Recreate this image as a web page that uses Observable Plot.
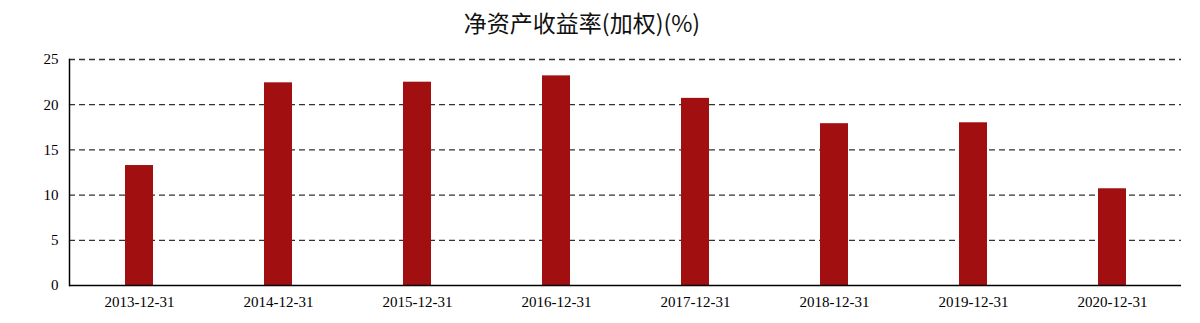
<!DOCTYPE html>
<html>
<head>
<meta charset="utf-8">
<script src="https://cdn.jsdelivr.net/npm/d3@7"></script>
<script src="https://cdn.jsdelivr.net/npm/@observablehq/plot@0.6"></script>
<style>
  html, body { margin: 0; padding: 0; background: #fff; }
  #title { width: 1200px; height: 45px; line-height: 45px; text-align: center; box-sizing: border-box; padding-right: 36px;
    font-family: "Noto Sans CJK SC", sans-serif; font-size: 23px; color: #111; }
  #chart svg { display: block; }
</style>
</head>
<body>
<div id="title">净资产收益率(加权)(%)</div>
<div id="chart"></div>
<script>
const categories = ["2013-12-31","2014-12-31","2015-12-31","2016-12-31","2017-12-31","2018-12-31","2019-12-31","2020-12-31"];
const values = [13.27, 22.42, 22.49, 23.19, 20.7, 17.9, 18.0, 10.7];
const yTicks = [0, 5, 10, 15, 20, 25];

const data = categories.map((c, i) => ({date: c, value: values[i]}));

const chart = Plot.plot({
  width: 1200,
  height: 278,
  marginTop: 14,
  marginBottom: 38,
  marginLeft: 69,
  marginRight: 19,
  style: {fontFamily: "'Liberation Serif', serif", fontSize: "15px", color: "#000", background: "#fff"},
  x: {domain: categories, paddingInner: 0.8, paddingOuter: 0.4, label: null},
  y: {domain: [0, 25], label: null},
  marks: [
    Plot.gridY(yTicks.filter(d => d > 0), {stroke: "#333", strokeOpacity: 1, strokeWidth: 1.3, strokeDasharray: "6,4"}),
    Plot.barY(data, {x: "date", y: "value", fill: "#a10f11"}),
    Plot.axisY({ticks: yTicks, tickSize: 0, tickPadding: 11, fill: "#000"}),
    Plot.axisX({tickSize: 0, tickPadding: 11, fill: "#000"}),
    Plot.ruleY([0], {stroke: "#000", strokeWidth: 1.5}),
    Plot.frame({anchor: "left", stroke: "#000", strokeWidth: 1.5})
  ]
});
document.getElementById("chart").appendChild(chart);
</script>
</body>
</html>
